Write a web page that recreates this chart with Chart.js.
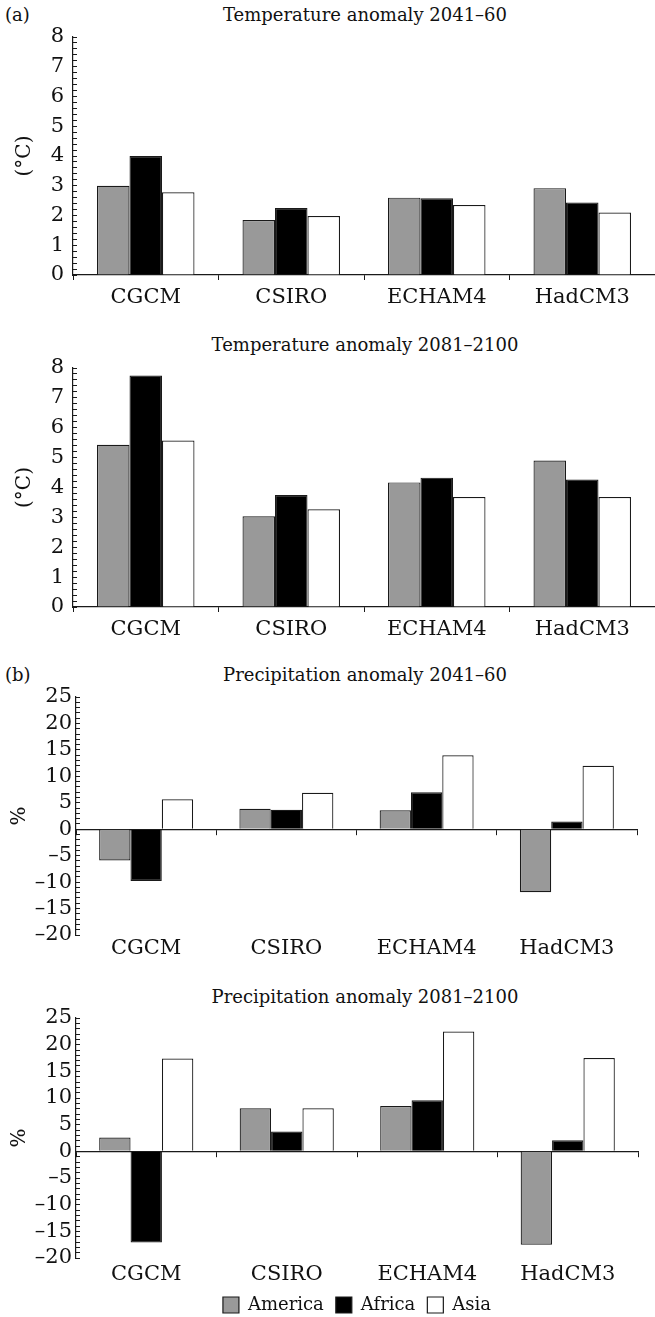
<!DOCTYPE html>
<html>
<head>
<meta charset="utf-8">
<script src="https://cdn.jsdelivr.net/npm/chart.js@4.4.1/dist/chart.umd.min.js"></script>
<style>
  html, body { margin: 0; padding: 0; background: #fff; overflow: hidden; }
  #fig { position: relative; width: 655px; height: 1317px; overflow: hidden; font-family: 'DejaVu Serif', serif; color: #111; }
  #fig canvas { position: absolute; left: 0; }
  .title { position: absolute; font-size: 18px; line-height: 20px; white-space: nowrap; transform: translate(-50%, -50%); }
  .tag { position: absolute; left: 5px; font-size: 18px; line-height: 20px; transform: translateY(-50%); }
</style>
</head>
<body>
<div id="fig">
  <div class="tag" style="top:15px">(a)</div>
  <div class="title" style="left:365px; top:15px">Temperature anomaly 2041–60</div>
  <canvas id="t1" width="655" height="315" style="top:0px"></canvas>

  <div class="title" style="left:365px; top:345px">Temperature anomaly 2081–2100</div>
  <canvas id="t2" width="655" height="317" style="top:330px"></canvas>

  <div class="tag" style="top:675px">(b)</div>
  <div class="title" style="left:365px; top:675px">Precipitation anomaly 2041–60</div>
  <canvas id="p1" width="655" height="315" style="top:660px"></canvas>

  <div class="title" style="left:365px; top:997px">Precipitation anomaly 2081–2100</div>
  <canvas id="p2" width="655" height="344" style="top:980px"></canvas>
</div>

<script>
const models = ['CGCM', 'CSIRO', 'ECHAM4', 'HadCM3']
const regions = ['America', 'Africa', 'Asia']
const fills = ['#999999', '#000000', '#ffffff']

// temperature anomaly (°C)
const temp2041America = [3.0, 1.85, 2.6, 2.92]
const temp2041Africa = [4.0, 2.25, 2.58, 2.44]
const temp2041Asia = [2.78, 1.98, 2.35, 2.1]

const temp2081America = [5.43, 3.04, 4.17, 4.9]
const temp2081Africa = [7.75, 3.75, 4.33, 4.27]
const temp2081Asia = [5.57, 3.27, 3.68, 3.68]

// precipitation anomaly (%)
const prec2041America = [-5.9, 3.85, 3.6, -11.9]
const prec2041Africa = [-9.8, 3.66, 7.0, 1.45]
const prec2041Asia = [5.66, 6.9, 14.0, 12.0]

const prec2081America = [2.6, 8.07, 8.5, -17.5]
const prec2081Africa = [-17.1, 3.7, 9.57, 2.06]
const prec2081Asia = [17.4, 8.07, 22.45, 17.5]

const ink = '#1a1a1a'
Chart.defaults.font.family = "'DejaVu Serif', serif"
Chart.defaults.color = '#111'

function makeDatasets(series) {
  return series.map((data, i) => ({
    label: regions[i],
    data: data,
    backgroundColor: fills[i],
    borderColor: ink,
    borderWidth: 1.2,
    barPercentage: 1,
    categoryPercentage: 0.67
  }))
}

function makePanel(id, series, p) {
  const isTemp = p.kind === 'temp'
  const scales = {
    x: {
      type: 'category',
      offset: true,
      border: { display: isTemp, color: ink, width: 1.2 },
      grid: { display: isTemp, drawOnChartArea: false, drawTicks: isTemp, tickLength: 5, color: ink, offset: true },
      ticks: { font: { size: 21 }, padding: p.xPad, color: '#111' },
      afterFit: s => { s.height = p.xHeight }
    },
    y: {
      min: isTemp ? 0 : -20,
      max: isTemp ? 8 : 25,
      border: { display: true, color: ink, width: 1.2 },
      grid: { display: true, drawOnChartArea: false, drawTicks: true, tickLength: -4, color: ink },
      ticks: {
        stepSize: isTemp ? 0.2 : 1,
        autoSkip: false,
        font: { size: 21 },
        padding: isTemp ? 13 : 8,
        color: '#111',
        callback: v => {
          const r = Math.round(v)
          if (Math.abs(v - r) > 1e-6) return ''
          if (!isTemp && r % 5 !== 0) return ''
          return r < 0 ? '–' + Math.abs(r) : String(r)
        }
      },
      title: {
        display: true,
        text: isTemp ? '(°C)' : '%',
        font: { size: 20 },
        color: '#111',
        padding: { top: isTemp ? 13 : 8, bottom: 0 }
      },
      afterFit: s => { s.width = p.yWidth }
    }
  }
  if (!isTemp) {
    // zero line with category ticks
    scales.x0 = {
      type: 'category',
      axis: 'x',
      position: { y: 0 },
      offset: true,
      border: { display: true, color: ink, width: 1.2 },
      grid: { display: true, drawOnChartArea: false, drawTicks: true, tickLength: 5, color: ink, offset: true },
      ticks: { display: false }
    }
  }
  return new Chart(document.getElementById(id), {
    type: 'bar',
    data: { labels: models, datasets: makeDatasets(series) },
    options: {
      responsive: false,
      animation: false,
      layout: { padding: { top: p.padTop, right: p.padRight, bottom: 0, left: 0 } },
      scales: scales,
      plugins: {
        tooltip: { enabled: false },
        legend: {
          display: !!p.legend,
          position: 'bottom',
          fullSize: false,
          labels: { font: { size: 18 }, boxWidth: 16, boxHeight: 16, padding: 12, color: '#111' }
        }
      }
    }
  })
}

makePanel('t1', [temp2041America, temp2041Africa, temp2041Asia],
  { kind: 'temp', padTop: 37, padRight: 0, xHeight: 40, xPad: 5, yWidth: 73 })
makePanel('t2', [temp2081America, temp2081Africa, temp2081Asia],
  { kind: 'temp', padTop: 38, padRight: 0, xHeight: 40, xPad: 5, yWidth: 73 })
makePanel('p1', [prec2041America, prec2041Africa, prec2041Asia],
  { kind: 'prec', padTop: 37, padRight: 18, xHeight: 40, xPad: 1, yWidth: 76 })
makePanel('p2', [prec2081America, prec2081Africa, prec2081Asia],
  { kind: 'prec', padTop: 38, padRight: 17, xHeight: 26, xPad: 4, yWidth: 76, legend: true })
</script>
</body>
</html>
